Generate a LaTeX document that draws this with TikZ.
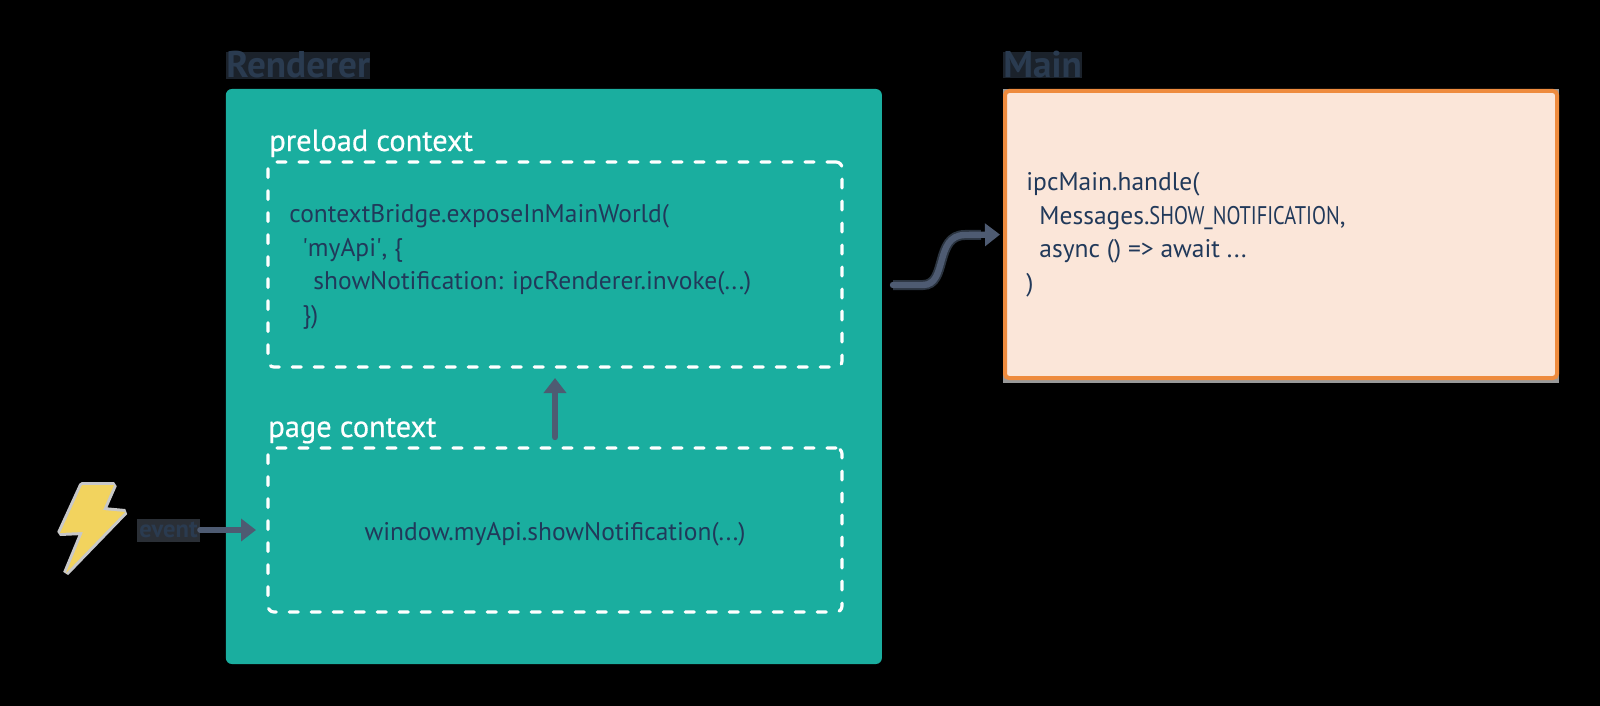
\documentclass[tikz,border=0pt]{standalone}
\usepackage{fontspec}
\setmainfont{PT Sans}
\newfontfamily\medfont[FakeBold=0.5]{PT Sans}
\usetikzlibrary{arrows.meta}
\definecolor{teal1}{HTML}{1AAE9F}
\definecolor{navy1}{HTML}{21395A}
\definecolor{slate1}{HTML}{4E5B72}
\definecolor{peach1}{HTML}{FBE6D9}
\definecolor{orange1}{HTML}{EE8B3E}
\definecolor{bolt1}{HTML}{F2D35E}
\definecolor{halo1}{HTML}{C8C8C8}
\definecolor{label1}{HTML}{2A3B50}
\definecolor{labelbg}{HTML}{1B222B}
\definecolor{eventbg}{HTML}{2A2F36}
\definecolor{wirehalo}{HTML}{2B3440}
\tikzset{
  x=0.5pt,y=-0.5pt,
  area/.style={draw=none,fill=teal1,rounded corners=3pt,inner sep=0pt,outer sep=0pt},
  dashbox/.style={draw=white,line width=1.6pt,dash pattern=on 4.5pt off 6.5pt,line cap=round,rounded corners=3pt,inner sep=0pt,outer sep=0pt,minimum width=287pt},
  mainbox/.style={draw=orange1,fill=peach1,line width=2pt,rounded corners=2pt,inner sep=0pt,outer sep=0pt},
  heading/.style={font=\fontsize{18.6}{20}\selectfont\bfseries,text=label1,fill=labelbg,inner sep=0pt,anchor=base west},
  sub/.style={font=\fontsize{15.2}{17}\selectfont\medfont,text=white,inner sep=0pt,anchor=base west},
  code/.style={font=\fontsize{12.75}{16.8}\selectfont,text=navy1,inner sep=0pt,align=left},
  arr/.style={draw=slate1,line width=3.2pt,line cap=round,-{Triangle[length=7.5pt,width=11pt]}},
}
\begin{document}
\begin{tikzpicture}
\path[use as bounding box,fill=black] (0,0) rectangle (1600,706);
% boxes
\node[area,minimum width=328pt,minimum height=287.5pt] (renderer) at (553.85,376.5) {};
\fill[gray!80] (1003,89) rectangle (1559,383);
\node[mainbox,minimum width=276pt,minimum height=143.5pt] (main) at (1281,234.5) {};
\node[dashbox,minimum height=102.5pt] (preload) at (555,264.5) {};
\node[dashbox,minimum height=82pt] (page) at (555,530) {};
% labels
\node[heading] (renderertitle) at (226,78) {Renderer};
\node[heading] (maintitle) at (1003,78) {Main};
\node[sub] (preloadtitle) at (269,151) {preload context};
\node[sub] (pagetitle) at (268,437) {page context};
% code
\node[code,anchor=north west] (preloadcode) at (289,204) {contextBridge.exposeInMainWorld(\\
\hspace*{6.5pt}\textquotesingle myApi\textquotesingle, \{\\
\hspace*{12pt}showNotification: ipcRenderer.invoke(...)\\
\hspace*{6.5pt}\})};
\node[code] (pagecode) at (555,534) {window.myApi.showNotification(...)};
\node[code,anchor=north west] (maincode) at (1026,172) {ipcMain.handle(\\
\hspace*{6.5pt}Messages.\scalebox{0.8}[1]{SHOW\_NOTIFICATION},\\
\hspace*{6.5pt}async () => await ...\\
)};
% bolt
\path[fill=bolt1,preaction={draw=halo1,line width=3pt,line join=bevel}] (82,485) -- (114,485) -- (103,510) -- (125,512) -- (66,573) -- (83,532) -- (60,533) -- cycle;
% event
\node[inner sep=0pt,fill=eventbg,text=label1,minimum width=31.5pt,minimum height=11.5pt,font=\fontsize{12.3}{14}\selectfont\bfseries] (event) at (168.5,530) {event};
% connectors
\draw[arr] (event.east) -- ([xshift=-6pt]page.west);
\draw[arr,shorten <=5.5pt,shorten >=5.5pt] (page.north) -- (preload.south);
\coordinate (curvestart) at (893,285);
\draw[arr,shorten >=2.5pt,preaction={draw=wirehalo,line width=5pt,-,shorten >=12pt}] (curvestart) -- (923,285) .. controls (948,285) and (934,235) .. (965,235) -- (main.west);
\end{tikzpicture}
\end{document}
